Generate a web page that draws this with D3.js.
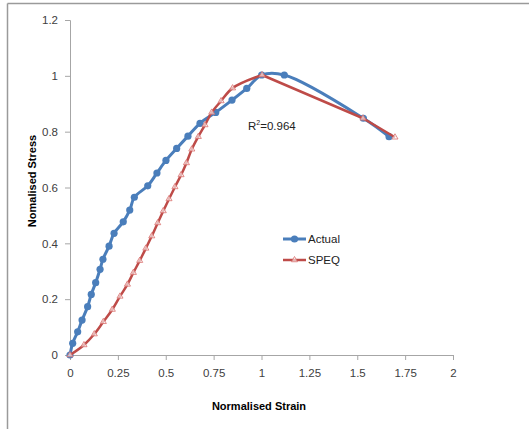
<!DOCTYPE html>
<html lang="en">
<head>
<meta charset="utf-8">
<title>Normalised stress-strain</title>
<script src="https://cdn.jsdelivr.net/npm/d3@7"></script>
<style>
  body { margin: 0; background: #fff; }
  svg { display: block; font-family: "Liberation Sans", Arial, sans-serif; }
</style>
</head>
<body>
<svg id="chart" width="529" height="429"></svg>
<script>
// values
var actualStrain = [0, 0.014, 0.040, 0.063, 0.092, 0.111, 0.134, 0.157, 0.172, 0.204, 0.230, 0.278, 0.312, 0.336,
                    0.406, 0.454, 0.501, 0.557, 0.616, 0.679, 0.761, 0.846, 0.923, 1.001, 1.119, 1.532, 1.666];
var actualStress = [0, 0.042, 0.083, 0.125, 0.173, 0.217, 0.259, 0.307, 0.343, 0.390, 0.436, 0.477, 0.519, 0.565,
                    0.606, 0.652, 0.697, 0.740, 0.784, 0.830, 0.869, 0.913, 0.955, 1.003, 1.003, 0.848, 0.782];

var speqStrain = [0, 0.073, 0.127, 0.174, 0.221, 0.261, 0.300, 0.331, 0.364, 0.396, 0.427, 0.458, 0.487, 0.517,
                  0.548, 0.580, 0.608, 0.636, 0.670, 0.705, 0.740, 0.789, 0.849, 1.003, 1.530, 1.697];
var speqStress = [0, 0.036, 0.075, 0.119, 0.163, 0.210, 0.253, 0.295, 0.338, 0.382, 0.426, 0.473, 0.516, 0.559,
                  0.602, 0.645, 0.688, 0.737, 0.782, 0.824, 0.869, 0.910, 0.956, 1.003, 0.848, 0.780];

var xTicks = [0, 0.25, 0.5, 0.75, 1, 1.25, 1.5, 1.75, 2];
var yTicks = [0, 0.2, 0.4, 0.6, 0.8, 1, 1.2];

var seriesNames = ["Actual", "SPEQ"];
var seriesColors = ["#4a7ebb", "#be4b48"];

var svg = d3.select("#chart");

// outer frame (top and left edges only visible)
svg.append("line").attr("x1", 7.5).attr("y1", 3.5).attr("x2", 529).attr("y2", 3.5)
  .attr("stroke", "#9a9a9a").attr("stroke-width", 1.5);
svg.append("line").attr("x1", 7.5).attr("y1", 3.5).attr("x2", 7.5).attr("y2", 429)
  .attr("stroke", "#9a9a9a").attr("stroke-width", 1.5);

var x = d3.scaleLinear().domain([0, 2]).range([70, 453]);
var y = d3.scaleLinear().domain([0, 1.2]).range([355, 20]);

var xAxis = svg.append("g")
  .attr("transform", "translate(0,355)")
  .call(d3.axisBottom(x).tickValues(xTicks).tickFormat(d => d).tickSize(5).tickPadding(9));

var yAxis = svg.append("g")
  .attr("transform", "translate(70,0)")
  .call(d3.axisLeft(y).tickValues(yTicks).tickFormat(d => d).tickSize(5).tickPadding(7));

[xAxis, yAxis].forEach(function(a) {
  a.selectAll("path, line").attr("stroke", "#a6a6a6");
  a.selectAll("text").attr("fill", "#404040").style("font-size", "11.5px");
});

// axis titles
svg.append("text")
  .attr("x", 259).attr("y", 410)
  .attr("text-anchor", "middle")
  .style("font-weight", "bold").style("font-size", "11px")
  .text("Normalised Strain");

svg.append("text")
  .attr("transform", "translate(36,181) rotate(-90)")
  .attr("text-anchor", "middle")
  .style("font-weight", "bold").style("font-size", "11px")
  .text("Nomalised Stress");

var smooth = d3.line()
  .x(d => x(d[0]))
  .y(d => y(d[1]))
  .curve(d3.curveCatmullRom.alpha(0.5));

var straight = d3.line()
  .x(d => x(d[0]))
  .y(d => y(d[1]));

var actual = d3.zip(actualStrain, actualStress);
var speq = d3.zip(speqStrain, speqStress);

svg.append("path")
  .datum(actual)
  .attr("d", smooth)
  .attr("fill", "none")
  .attr("stroke", seriesColors[0])
  .attr("stroke-width", 3);

svg.selectAll(".dot")
  .data(actual)
  .enter().append("circle")
  .attr("class", "dot")
  .attr("cx", d => x(d[0]))
  .attr("cy", d => y(d[1]))
  .attr("r", 3.6)
  .attr("fill", seriesColors[0]);

// SPEQ: smooth rise up to the peak, then nearly straight softening branch
var peak = d3.maxIndex(speqStress);
svg.append("path")
  .attr("d", smooth(speq.slice(0, peak + 1)) + straight(speq.slice(peak)).replace("M", "L"))
  .attr("fill", "none")
  .attr("stroke", seriesColors[1])
  .attr("stroke-width", 2.5)
  .attr("stroke-linejoin", "round");

var tri = d3.symbol().type(d3.symbolTriangle).size(16);
svg.selectAll(".tri")
  .data(speq)
  .enter().append("path")
  .attr("class", "tri")
  .attr("d", tri)
  .attr("transform", d => "translate(" + x(d[0]) + "," + y(d[1]) + ")")
  .attr("fill", "#fff")
  .attr("fill-opacity", 0.6)
  .attr("stroke", "#d9706d")
  .attr("stroke-width", 0.8);

// R squared note
var r2 = svg.append("text")
  .attr("x", 248).attr("y", 130)
  .style("font-size", "11.5px")
  .attr("fill", "#222");
r2.append("tspan").text("R");
r2.append("tspan").attr("dy", -5).style("font-size", "7px").text("2");
r2.append("tspan").attr("dy", 5).text("=0.964");

// legend
var legend = svg.selectAll(".legend")
  .data(seriesNames)
  .enter().append("g")
  .attr("class", "legend")
  .attr("transform", (d, i) => "translate(283," + (239 + i * 21) + ")");

legend.append("line")
  .attr("x1", 0).attr("x2", 23)
  .attr("stroke", (d, i) => seriesColors[i])
  .attr("stroke-width", (d, i) => i ? 2.5 : 3);

legend.filter((d, i) => i === 0).append("circle")
  .attr("cx", 11.5).attr("r", 3.6).attr("fill", seriesColors[0]);

legend.filter((d, i) => i === 1).append("path")
  .attr("d", tri).attr("transform", "translate(11.5,0)")
  .attr("fill", "#fff").attr("fill-opacity", 0.6)
  .attr("stroke", "#d9706d").attr("stroke-width", 0.8);

legend.append("text")
  .attr("x", 25).attr("dy", "0.35em")
  .style("font-size", "11.5px")
  .attr("fill", "#222")
  .text(d => d);
</script>
</body>
</html>
